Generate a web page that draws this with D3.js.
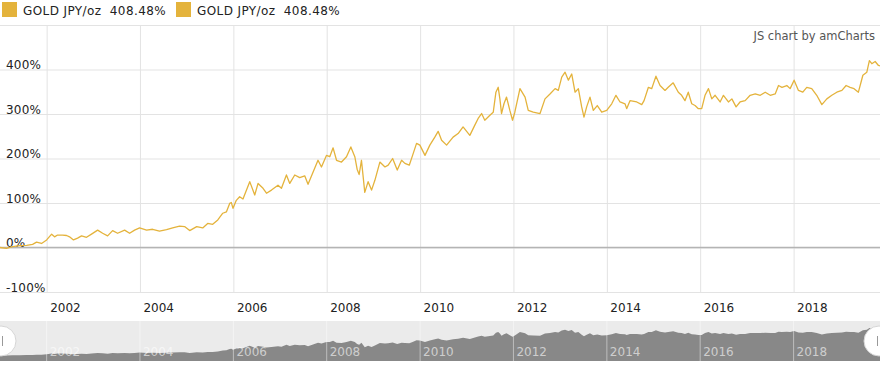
<!DOCTYPE html>
<html>
<head>
<meta charset="utf-8">
<script src="https://cdn.jsdelivr.net/npm/d3@7"></script>
<style>
  body { margin: 0; background: #fff; }
  svg { display: block; font-family: "DejaVu Sans", Verdana, sans-serif; }
</style>
</head>
<body>
<div id="chart"></div>
<script>
// 金价（日元/盎司）累计涨幅，单位 %
const dates = [
  '2001-01-01','2001-02-20','2001-04-10','2001-06-03','2001-07-28','2001-09-13','2001-10-14','2001-11-22',
  '2002-01-01','2002-02-09','2002-03-04','2002-03-27','2002-05-05','2002-06-06','2002-06-29','2002-07-30',
  '2002-08-31','2002-10-01','2002-11-09','2002-12-18','2003-02-04','2003-03-15','2003-04-23','2003-06-01',
  '2003-07-10','2003-09-03','2003-10-12','2003-11-20','2003-12-29','2004-02-22','2004-04-09','2004-06-02',
  '2004-07-27','2004-09-13','2004-11-06','2004-12-15','2005-01-24','2005-03-20','2005-05-06','2005-06-14',
  '2005-07-23','2005-09-01','2005-10-10','2005-11-07','2005-12-03','2005-12-16','2005-12-29','2006-01-24',
  '2006-02-19','2006-03-17','2006-05-09','2006-06-17','2006-07-13','2006-08-21','2006-09-17','2006-10-26',
  '2006-12-16','2007-01-12','2007-02-20','2007-03-18','2007-04-26','2007-06-04','2007-07-13','2007-08-08',
  '2007-09-16','2007-10-25','2007-11-21','2007-12-30','2008-01-25','2008-02-20','2008-03-18','2008-04-26',
  '2008-06-04','2008-07-08','2008-08-08','2008-08-26','2008-09-11','2008-09-29','2008-10-25','2008-11-20',
  '2008-12-17','2009-01-12','2009-02-20','2009-04-01','2009-04-26','2009-05-31','2009-07-06','2009-08-09',
  '2009-09-04','2009-10-08','2009-11-03','2009-12-04','2009-12-30','2010-02-08','2010-03-18','2010-04-26',
  '2010-05-22','2010-06-18','2010-07-27','2010-09-16','2010-10-25','2010-12-03','2011-01-25','2011-03-05',
  '2011-03-31','2011-04-27','2011-05-22','2011-07-01','2011-07-27','2011-08-17','2011-09-04','2011-09-17',
  '2011-09-30','2011-10-19','2011-11-08','2011-12-04','2011-12-25','2012-01-12','2012-02-21','2012-04-01',
  '2012-04-26','2012-06-04','2012-07-27','2012-09-04','2012-10-13','2012-11-22','2012-12-17','2013-01-13',
  '2013-02-08','2013-03-06','2013-04-01','2013-04-27','2013-05-23','2013-06-18','2013-07-06','2013-07-27',
  '2013-08-22','2013-09-17','2013-10-18','2013-11-22','2013-12-31','2014-02-08','2014-03-13','2014-04-14',
  '2014-05-23','2014-06-05','2014-07-01','2014-08-23','2014-10-01','2014-10-19','2014-11-22','2014-12-18',
  '2015-01-20','2015-02-21','2015-04-01','2015-04-26','2015-06-04','2015-07-14','2015-08-09','2015-09-04',
  '2015-09-30','2015-10-27','2015-11-22','2015-12-18','2016-01-13','2016-02-08','2016-03-06','2016-04-01',
  '2016-04-27','2016-06-05','2016-07-01','2016-08-09','2016-09-05','2016-10-08','2016-11-08','2016-12-18',
  '2017-01-26','2017-03-07','2017-04-15','2017-05-24','2017-07-02','2017-08-10','2017-09-05','2017-10-02',
  '2017-11-09','2017-12-05','2018-01-05','2018-02-08','2018-03-14','2018-04-14','2018-05-23','2018-07-01',
  '2018-08-10','2018-09-18','2018-10-27','2018-12-05','2019-01-14','2019-02-16','2019-03-19','2019-04-19',
  '2019-05-23','2019-06-27','2019-07-28','2019-08-17','2019-09-05','2019-10-01','2019-10-27','2019-11-08'
];
const values = [
  0, -2, 2, 4, 5, 7, 12, 9,
  17, 30, 24, 28, 28, 27, 24, 17,
  21, 26, 23, 30, 39, 32, 26, 38,
  32, 39, 32, 39, 44, 39, 41, 37,
  40, 44, 48, 47, 38, 47, 44, 54,
  52, 62, 77, 80, 99, 101, 88, 106,
  114, 109, 148, 118, 144, 133, 122, 129,
  140, 133, 163, 144, 163, 157, 161, 142,
  169, 196, 181, 207, 204, 224, 196, 192,
  204, 226, 204, 176, 164, 196, 124, 148,
  129, 151, 192, 181, 185, 200, 174, 196,
  189, 185, 207, 234, 230, 207, 230, 248,
  261, 241, 230, 248, 256, 271, 252, 275,
  290, 301, 286, 297, 304, 349, 360, 334,
  301, 323, 338, 308, 286, 304, 357, 338,
  308, 304, 301, 334, 345, 357, 353, 383,
  394, 376, 390, 349, 357, 316, 293, 316,
  338, 308, 319, 304, 308, 323, 342, 327,
  323, 312, 330, 327, 321, 330, 360, 357,
  385, 364, 353, 360, 370, 349, 342, 330,
  349, 323, 319, 312, 312, 342, 357, 334,
  342, 327, 342, 327, 334, 316, 327, 330,
  342, 345, 342, 349, 342, 345, 364, 360,
  364, 357, 376, 353, 349, 360, 357, 342,
  321, 334, 342, 349, 353, 364, 360, 357,
  349, 387, 394, 420, 413, 418, 409, 408
];

const seriesName = 'GOLD JPY/oz';
const seriesChange = '408.48%';
const yTicks = [-100, 0, 100, 200, 300, 400];
const gridTicks = [-100, 0, 100, 200, 300, 400, 500];
const xTickYears = ['2002', '2004', '2006', '2008', '2010', '2012', '2014', '2016', '2018'];

const lineColor = '#e4b33c';

// 尺寸
const width = 880;
const height = 368;
const plot = { left: 0, right: 880, top: 25, bottom: 292 };
const scroll = { top: 321, bottom: 361 };

const parseDate = d3.timeParse('%Y-%m-%d');
const parseYear = d3.timeParse('%Y');
const data = dates.map((d, i) => ({ date: parseDate(d), value: values[i] }));
const xTicks = xTickYears.map(parseYear);

// 比例尺
const x = d3.scaleTime()
  .domain(d3.extent(data, d => d.date))
  .range([plot.left, plot.right]);
const y = d3.scaleLinear()
  .domain([-100, 500])
  .range([plot.bottom, plot.top]);
const yScroll = d3.scaleLinear()
  .domain([-85, 420])
  .range([scroll.bottom, scroll.top + 7]);

const svg = d3.select('#chart')
  .append('svg')
  .attr('width', width)
  .attr('height', height);

// 横向网格线
svg.append('g')
  .attr('class', 'y-grid')
  .call(d3.axisLeft(y).tickValues(gridTicks).tickSize(-width).tickFormat(''))
  .call(g => g.select('.domain').remove())
  .call(g => g.selectAll('line').attr('stroke', '#e3e3e3'));

// 纵向网格线
svg.append('g')
  .attr('class', 'x-grid')
  .attr('transform', `translate(0,${plot.bottom})`)
  .call(d3.axisBottom(x).tickValues(xTicks).tickSize(-(plot.bottom - plot.top)).tickFormat(''))
  .call(g => g.select('.domain').remove())
  .call(g => g.selectAll('line').attr('stroke', '#e3e3e3'));

// 0% 基准线
svg.append('line')
  .attr('x1', plot.left)
  .attr('x2', plot.right)
  .attr('y1', y(0))
  .attr('y2', y(0))
  .attr('stroke', '#b4b4b4')
  .attr('stroke-width', 1.6);

// Y 轴标签（在图内左侧，位于网格线上方）
svg.append('g')
  .attr('class', 'y-axis')
  .call(d3.axisRight(y).tickValues(yTicks).tickSize(0).tickFormat(d => d + '%'))
  .call(g => g.select('.domain').remove())
  .call(g => g.selectAll('text')
    .attr('x', 6)
    .attr('y', -1)
    .attr('dy', null)
    .attr('text-anchor', 'start')
    .attr('fill', '#222')
    .style('font-size', '12px')
    .style('letter-spacing', '0.2px')
    .style('font-family', '"DejaVu Sans", Verdana, sans-serif'));

// X 轴标签
svg.append('g')
  .attr('class', 'x-axis')
  .attr('transform', `translate(0,${plot.bottom})`)
  .call(d3.axisBottom(x).tickValues(xTicks).tickSize(0).tickFormat(d3.timeFormat('%Y')))
  .call(g => g.select('.domain').remove())
  .call(g => g.selectAll('text')
    .attr('x', 3)
    .attr('y', 20)
    .attr('dy', null)
    .attr('text-anchor', 'start')
    .attr('fill', '#222')
    .style('font-size', '12px')
    .style('font-family', '"DejaVu Sans", Verdana, sans-serif'));

// 金价折线
svg.append('path')
  .datum(data)
  .attr('fill', 'none')
  .attr('stroke', lineColor)
  .attr('stroke-width', 1.3)
  .attr('stroke-linejoin', 'round')
  .attr('d', d3.line().x(d => x(d.date)).y(d => y(d.value)));

// 图例
const legendItems = [2, 176];
legendItems.forEach(lx => {
  const item = svg.append('g').attr('transform', `translate(${lx},2)`);
  item.append('rect')
    .attr('width', 15)
    .attr('height', 15)
    .attr('fill', lineColor);
  item.append('text')
    .attr('x', 21)
    .attr('y', 12.5)
    .attr('fill', '#222')
    .style('font-size', '12px')
    .style('letter-spacing', '0.4px')
    .style('white-space', 'pre')
    .text(`${seriesName}  ${seriesChange}`);
});

// 版权文字
svg.append('text')
  .attr('x', 875)
  .attr('y', 40)
  .attr('text-anchor', 'end')
  .attr('fill', '#555')
  .style('font-size', '11.5px')
  .text('JS chart by amCharts');

// 滚动条
const sb = svg.append('g').attr('class', 'scrollbar');
sb.append('rect')
  .attr('x', 0)
  .attr('y', scroll.top)
  .attr('width', width)
  .attr('height', scroll.bottom - scroll.top)
  .attr('fill', '#ebebeb');

sb.append('path')
  .datum(data)
  .attr('fill', '#888888')
  .attr('d', d3.area()
    .x(d => x(d.date))
    .y0(scroll.bottom)
    .y1(d => yScroll(d.value)));

sb.selectAll('line.sgrid')
  .data(xTicks)
  .enter()
  .append('line')
  .attr('class', 'sgrid')
  .attr('x1', d => x(d))
  .attr('x2', d => x(d))
  .attr('y1', scroll.top)
  .attr('y2', scroll.bottom)
  .attr('stroke', '#fff')
  .attr('stroke-opacity', 0.45);

sb.selectAll('text.slabel')
  .data(xTicks)
  .enter()
  .append('text')
  .attr('class', 'slabel')
  .attr('x', d => x(d) + 3)
  .attr('y', 355.5)
  .attr('fill', '#fff')
  .attr('fill-opacity', 0.6)
  .style('font-size', '12px')
  .text(d3.timeFormat('%Y'));

// 滚动条两端手柄
[1, 879].forEach(cx => {
  const h = sb.append('g').attr('transform', `translate(${cx},341)`);
  h.append('circle')
    .attr('r', 15)
    .attr('fill', '#fff')
    .attr('stroke', '#d6d6d6')
    .attr('stroke-width', 1);
  [-1.5, 1.5].forEach(dx => {
    h.append('line')
      .attr('x1', dx)
      .attr('x2', dx)
      .attr('y1', -5)
      .attr('y2', 5)
      .attr('stroke', '#999')
      .attr('stroke-width', 1);
  });
});
</script>
</body>
</html>
